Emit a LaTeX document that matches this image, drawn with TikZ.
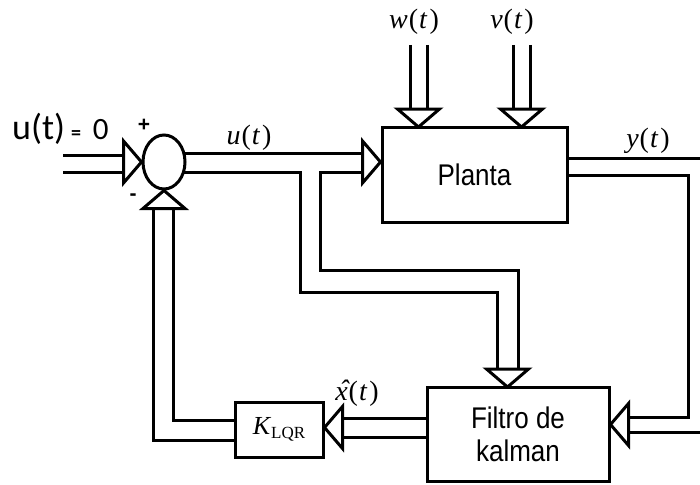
\documentclass[tikz,border=0pt]{standalone}
\usepackage{fontspec}
\usepackage{graphicx}
\setmainfont{Liberation Sans}
\newfontfamily\timesfam{Liberation Serif}
\newfontfamily\calibfam{Carlito}
\usetikzlibrary{shapes.geometric,backgrounds}

\newcommand{\sigt}[1]{\textit{#1}\kern1pt(\kern1pt\textit{t}\kern2pt)}
\newcommand{\tallt}[1]{\scalebox{1}[1.15]{#1}}

\tikzset{
  bus/.style={line width=3pt, line join=miter},
  head/.style={draw, fill=white, line width=3pt, line join=miter},
  block/.style={draw, fill=white, line width=3pt, inner sep=0pt, align=center,
    font=\fontsize{26}{33}\selectfont},
  sig/.style={inner sep=0pt, font=\timesfam\fontsize{28}{28}\selectfont},
  openhead/.pic={\draw[head] (0,0) -- (-18,-21) -- (-18,21) -- cycle;}
}

\begin{document}
\begin{tikzpicture}[x=1pt, y=-1pt]
\useasboundingbox (0,0) rectangle (700,484);

% Blocks
\node[block, ellipse, minimum width=42pt, minimum height=54pt] (sum) at (164,162) {};
\node[block, minimum width=185pt, minimum height=95pt] (planta) at (474.5,174.5) {\tallt{Planta}};
\node[block, minimum width=182pt, minimum height=94pt] (filtro) at (518,434)
  {\tallt{Filtro de}\\\tallt{kalman}};
\node[block, minimum width=88pt, minimum height=55pt] (klqr) at (279,429.5)
  {\timesfam\textit{K}\raisebox{-0.35ex}{\fontsize{17}{17}\selectfont LQR}};

% Labels
\node[anchor=base west, inner sep=0pt, font=\calibfam\fontsize{36}{36}\selectfont] (uzero) at (12,139)
  {u(t)\kern6pt{\fontsize{20}{20}\selectfont\bfseries =}\kern12pt{\fontsize{31}{31}\selectfont 0}};
\node[inner sep=0pt, font=\bfseries\fontsize{21}{21}\selectfont] (plus) at (144,125) {+};
\node[inner sep=0pt, font=\bfseries\fontsize{21}{21}\selectfont] (minus) at (133,197) {-};
\node[sig] (lu) at (249,138) {\sigt{u}};
\node[sig] (lw) at (414,22) {\sigt{w}};
\node[sig] (lv) at (512,22) {\sigt{v}};
\node[sig] (ly) at (648,141) {\sigt{y}};
\node[sig] (lx) at (357,393)
  {\sigt{\makebox[0pt][l]{\kern4pt\raisebox{1pt}{^^^^02c6}}x}};

% Double connectors
\begin{scope}[on background layer]
  % reference input
  \draw[bus] (63,155) -- (125,155) (63,172) -- (125,172);
  % u(t) to planta and filtro
  \draw[bus] (sum.center) ++(0,-9) -- (362,153);
  \draw[bus] (sum.center) ++(0,10) -| (300,292) -| (497,369);
  \draw[bus] (362,172) -| (320,270) -| (518,369);
  % disturbances
  \draw[bus] (410,45) -- (410,109) (427,45) -- (427,109);
  \draw[bus] (513,45) -- (513,109) (530,45) -- (530,109);
  % y(t)
  \draw[bus] (planta.east |- 0,158) -- (700,158);
  \draw[bus] (planta.east |- 0,175) -| (688,417) -- (627,417);
  \draw[bus] (700,432) -- (627,432);
  % estimate to gain
  \draw[bus] (filtro.west |- 0,418) -- (341,418) (filtro.west |- 0,437) -- (341,437);
  % feedback
  \draw[bus] (klqr.west |- 0,420) -| (173,210);
  \draw[bus] (klqr.west |- 0,440) -| (153,210);
\end{scope}

% Open arrow heads
\pic at (sum.west) {openhead};
\pic at (planta.west |- sum.center) {openhead};
\pic[rotate=-90] at (418.5,127) {openhead};
\pic[rotate=-90] at (521.5,127) {openhead};
\pic[rotate=-90] at (507.5,387) {openhead};
\pic[rotate=180] at (filtro.east |- 0,424.5) {openhead};
\pic[rotate=180] at (klqr.east |- 0,427.5) {openhead};
\pic[rotate=90] at (sum.south) {openhead};
\end{tikzpicture}
\end{document}
